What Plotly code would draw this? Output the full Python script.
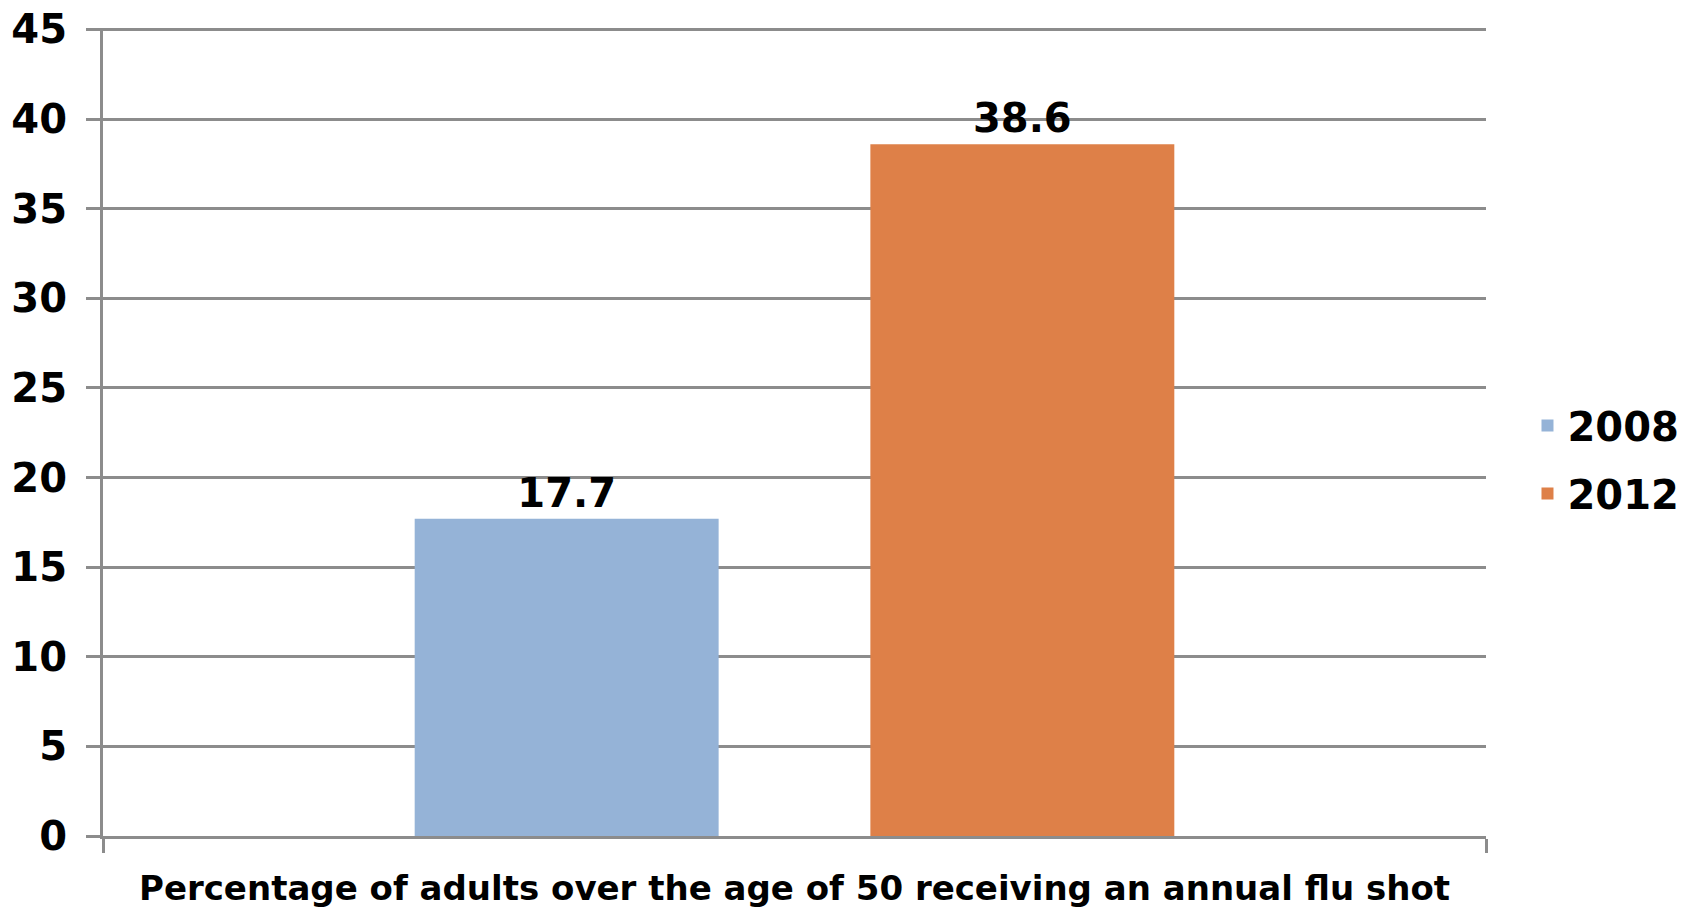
import plotly.graph_objects as go

categories = ["Percentage of adults over the age of 50 receiving an annual flu shot"]
series_names = ["2008", "2012"]
values_2008 = [17.7]
values_2012 = [38.6]
colors = ["#95B3D7", "#DE8048"]
y_ticks = [0, 5, 10, 15, 20, 25, 30, 35, 40, 45]

FONT = "DejaVu Sans"
fig = go.Figure()
for name, vals, col in zip(series_names, [values_2008, values_2012], colors):
    fig.add_trace(go.Bar(
        x=categories, y=vals, name=name, marker_color=col, marker_line_width=0,
        legendgroup=name,
        text=[f"{v:.1f}" for v in vals], textposition="outside",
        textfont=dict(family=FONT, size=40, color="black", weight="bold"),
        cliponaxis=False,
    ))

fig.update_layout(
    width=1696, height=914,
    margin=dict(l=103, r=206, t=28, b=78),
    paper_bgcolor="white", plot_bgcolor="white",
    barmode="group", bargap=0.341, bargroupgap=0.333,
    font=dict(family=FONT, color="black"),
    legend=dict(x=1.03, xanchor="left", y=0.466, yanchor="middle",
                font=dict(family=FONT, size=40, color="black", weight="bold"),
                traceorder="grouped", tracegroupgap=13),
    showlegend=True,
)
fig.update_yaxes(
    range=[0, 45.08], tickvals=y_ticks, showgrid=True, gridcolor="#8C8C8C", gridwidth=3,
    showline=True, linecolor="#8C8C8C", linewidth=3,
    ticks="outside", ticklen=14, tickwidth=3, tickcolor="#8C8C8C",
    tickfont=dict(family=FONT, size=40, color="black", weight="bold"),
    zeroline=False, ticklabelstandoff=11, automargin=False,
)
fig.update_xaxes(
    showline=True, linecolor="#8C8C8C", linewidth=3, mirror=False,
    ticks="outside", tickson="boundaries", ticklen=14, tickwidth=3, tickcolor="#8C8C8C",
    tickfont=dict(family=FONT, size=34, color="black", weight="bold"),
    ticklabelstandoff=20, automargin=False,
)
fig.write_html("out.html", config={"displayModeBar": False},
               post_script="document.body.style.margin='0';")
